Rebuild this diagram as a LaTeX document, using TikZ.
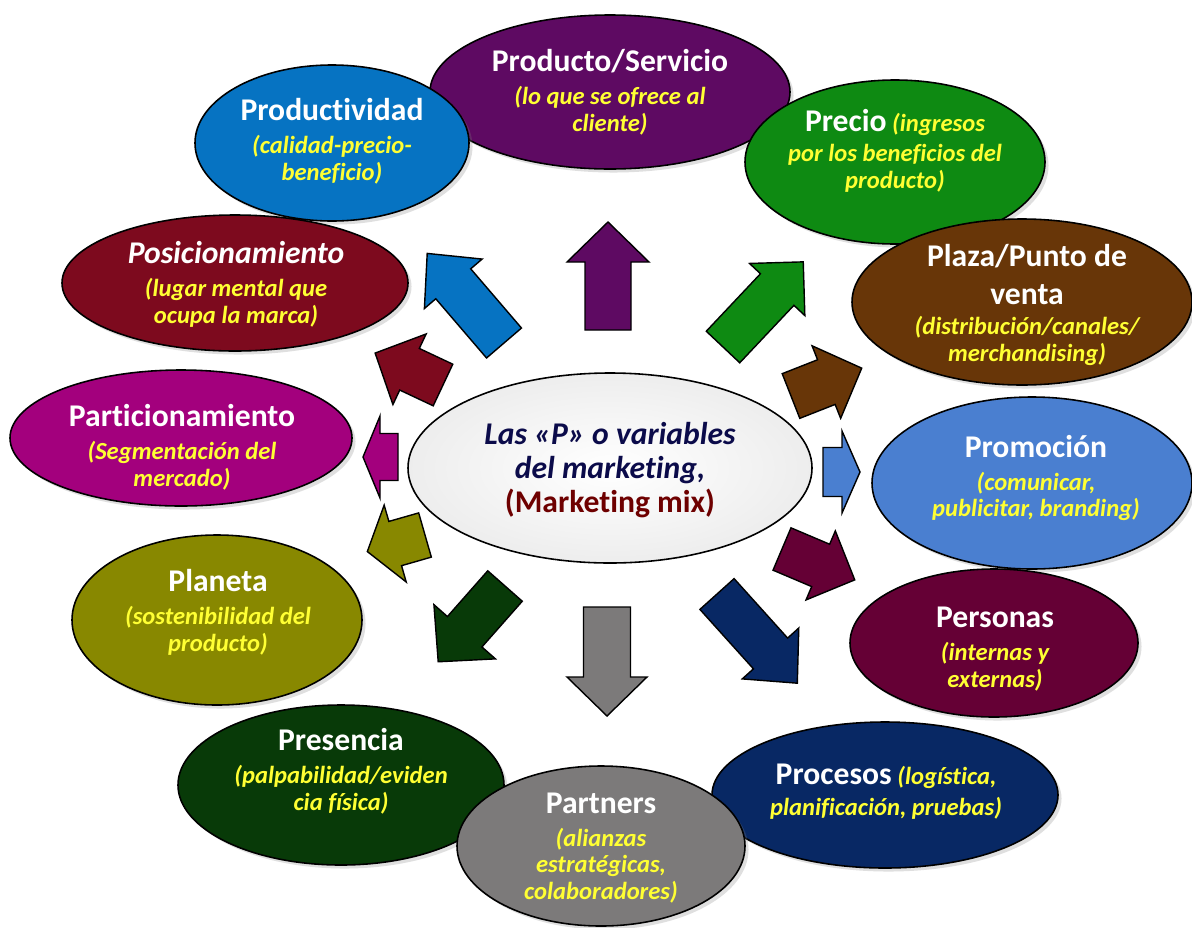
\documentclass[tikz,border=0pt]{standalone}
\usepackage{fontspec}
\setmainfont[Ligatures=NoCommon]{Carlito}
\usetikzlibrary{shapes.geometric,shadows}
\definecolor{cProd}{HTML}{5E0A62}
\definecolor{cProdv}{HTML}{0673C2}
\definecolor{cPrecio}{HTML}{0E8A12}
\definecolor{cPos}{HTML}{7D0A1E}
\definecolor{cPlaza}{HTML}{683608}
\definecolor{cPart}{HTML}{A3007D}
\definecolor{cPromo}{HTML}{4A7FD0}
\definecolor{cPlan}{HTML}{888800}
\definecolor{cPers}{HTML}{650035}
\definecolor{cPres}{HTML}{083A08}
\definecolor{cProc}{HTML}{082864}
\definecolor{cPartn}{HTML}{7C7A7A}
\definecolor{cNavyT}{HTML}{0B0B4A}
\definecolor{cRedT}{HTML}{6E0000}
\definecolor{cYel}{HTML}{FFFF33}
\newcommand\ttl[1]{{\fontsize{18}{20}\selectfont\bfseries\color{white}#1}}
\newcommand\sbt[1]{{\bfseries\itshape\color{cYel}#1}}
\newcommand\blockarr[8]{%
  \begin{scope}[shift={(#2,#3)},rotate=#4]
    \filldraw[arr,fill=#1] (0,-#6) -- ({#5-#8},-#6) -- ({#5-#8},-#7) -- (#5,0)
      -- ({#5-#8},#7) -- ({#5-#8},#6) -- (0,#6) -- cycle;
  \end{scope}}
\tikzset{
  pell/.style={ellipse,draw=black,line width=0.9pt,inner sep=0pt,
    drop shadow={opacity=0.25,shadow xshift=2pt,shadow yshift=-2pt}},
  txt/.style={align=center,inner sep=0pt,font=\fontsize{14}{15.3}\selectfont},
  arr/.style={draw=black,line width=0.8pt,line join=miter},
}
\begin{document}
\begin{tikzpicture}[x=0.02cm,y=-0.02cm]
\useasboundingbox (0,0) rectangle (1192,927);
\fill[white] (0,0) rectangle (1192,927);
% ellipses
\node[pell,fill=cProd,minimum width=360*0.02cm,minimum height=154*0.02cm] (eProd) at (610,92) {};
\node[pell,fill=cProdv,minimum width=274*0.02cm,minimum height=156*0.02cm] (eProdv) at (332,143) {};
\node[pell,fill=cPrecio,minimum width=300*0.02cm,minimum height=164*0.02cm] (ePrecio) at (895,162) {};
\node[pell,fill=cPos,minimum width=346*0.02cm,minimum height=136*0.02cm] (ePos) at (235,283) {};
\node[pell,fill=cPlaza,minimum width=340*0.02cm,minimum height=166*0.02cm] (ePlaza) at (1022,302) {};
\node[pell,fill=cPart,minimum width=342*0.02cm,minimum height=136*0.02cm] (ePart) at (181,438) {};
\node[pell,fill=cPromo,minimum width=320*0.02cm,minimum height=172*0.02cm] (ePromo) at (1032,483) {};
\node[pell,fill=cPlan,minimum width=290*0.02cm,minimum height=170*0.02cm] (ePlan) at (217,620) {};
\node[pell,fill=cPers,minimum width=288*0.02cm,minimum height=148*0.02cm] (ePers) at (994,643) {};
\node[pell,fill=cPres,minimum width=326*0.02cm,minimum height=160*0.02cm] (ePres) at (341,785) {};
\node[pell,fill=cProc,minimum width=346*0.02cm,minimum height=146*0.02cm] (eProc) at (885,795) {};
\node[pell,fill=cPartn,minimum width=288*0.02cm,minimum height=160*0.02cm] (ePartn) at (601,846) {};
\node[ellipse,draw=black,line width=0.9pt,inner sep=0pt,shading=radial,inner color=white,outer color=gray!14,
  minimum width=404*0.02cm,minimum height=190*0.02cm] (eCen) at (610,468) {};
% arrows
\blockarr{cProd}{608}{330}{90}{108}{23}{41}{40}
\blockarr{cProdv}{504}{343}{130.6}{118}{23}{38}{40}
\blockarr{cPrecio}{723}{347}{46.7}{117}{23}{38}{38}
\blockarr{cPos}{443}{385}{154.8}{75}{23}{39}{38}
\blockarr{cPlaza}{791}{396}{21.5}{76}{24}{39}{38}
\blockarr{cPart}{398}{457}{180}{35}{23.5}{41}{17}
\blockarr{cPromo}{823}{472}{0}{37}{24.5}{41}{18}
\blockarr{cPlan}{425}{535}{196}{60}{23}{40}{29}
\blockarr{cPres}{505}{586}{228.6}{101}{23}{41}{40}
\blockarr{cPartn}{607}{607}{-90}{109}{23.5}{40}{39}
\blockarr{cProc}{717}{594}{-48}{120}{23}{38}{40}
\blockarr{cPers}{782}{549}{-23}{79}{23}{37.5}{37}
% texts
\node[txt] (tProd) at (610,92) {\ttl{Producto/Servicio}\\[3.5pt]\sbt{(lo que se ofrece al}\\\sbt{cliente)}};
\node[txt] (tProdv) at (332,141) {\ttl{Productividad}\\[3.5pt]\sbt{(calidad-precio-}\\\sbt{beneficio)}};
\node[txt] (tPrecio) at (895,151) {\ttl{Precio} \sbt{(ingresos}\\[1.7pt]\sbt{por los beneficios del}\\\sbt{producto)}};
\node[txt] (tPos) at (236,284) {{\fontsize{18}{20}\selectfont\bfseries\itshape\color{white}Posicionamiento}\\[3.5pt]\sbt{(lugar mental que}\\\sbt{ocupa la marca)}};
\node[txt] (tPlaza) at (1027,305) {\ttl{Plaza/Punto de}\\[6pt]\ttl{venta}\\[2pt]\sbt{(distribución/canales/}\\\sbt{merchandising)}};
\node[txt] (tPart) at (182,447) {\ttl{Particionamiento}\\[3.5pt]\sbt{(Segmentación del}\\\sbt{mercado)}};
\node[txt] (tPromo) at (1036,478) {\ttl{Promoción}\\[3.5pt]\sbt{(comunicar,}\\\sbt{publicitar, branding)}};
\node[txt] (tPlan) at (218,612) {\ttl{Planeta}\\[3.5pt]\sbt{(sostenibilidad del}\\\sbt{producto)}};
\node[txt] (tPers) at (995,649) {\ttl{Personas}\\[3.5pt]\sbt{(internas y}\\\sbt{externas)}};
\node[txt] (tPres) at (341,771) {\ttl{Presencia}\\[3.5pt]\sbt{(palpabilidad/eviden}\\\sbt{cia física)}};
\node[txt] (tProc) at (886,792) {\ttl{Procesos} \sbt{(logística,}\\[2.5pt]\sbt{planificación, pruebas)}};
\node[txt] (tPartn) at (601,848) {\ttl{Partners}\\[3.5pt]\sbt{(alianzas}\\\sbt{estratégicas,}\\\sbt{colaboradores)}};
\node[align=center,inner sep=0pt,font=\fontsize{18}{19.3}\selectfont\bfseries] (tCen) at (610,470)
  {{\itshape\color{cNavyT}Las «P» o variables}\\{\itshape\color{cNavyT}del marketing,}\\{\color{cRedT}(Marketing mix)}};
\end{tikzpicture}
\end{document}
